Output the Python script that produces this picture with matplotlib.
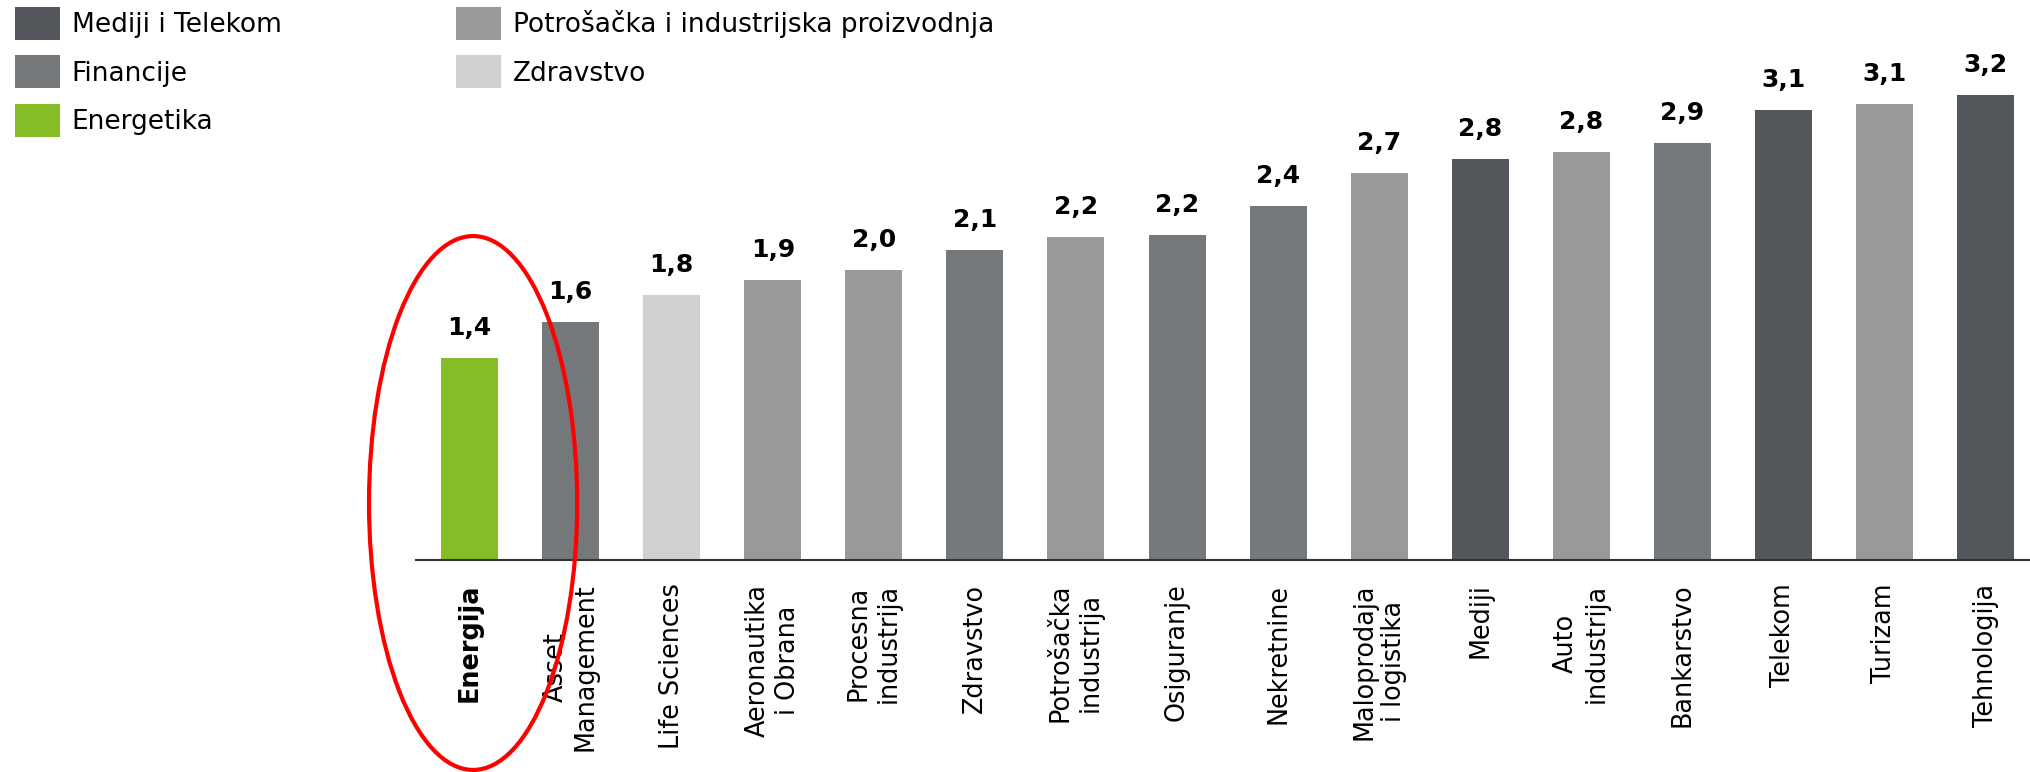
import matplotlib
matplotlib.use("Agg")
import matplotlib.pyplot as plt
from matplotlib.patches import Patch, Ellipse

# sectors, bar heights and the printed labels
sectors = ["Energija", "Asset\nManagement", "Life Sciences", "Aeronautika\ni Obrana",
           "Procesna\nindustrija", "Zdravstvo", "Potrošačka\nindustrija", "Osiguranje",
           "Nekretnine", "Maloprodaja\ni logistika", "Mediji", "Auto\nindustrija",
           "Bankarstvo", "Telekom", "Turizam", "Tehnologija"]
values = [1.40, 1.65, 1.84, 1.94, 2.01, 2.15, 2.24, 2.25,
          2.45, 2.68, 2.78, 2.83, 2.89, 3.12, 3.16, 3.22]
value_labels = ["1,4", "1,6", "1,8", "1,9", "2,0", "2,1", "2,2", "2,2",
                "2,4", "2,7", "2,8", "2,8", "2,9", "3,1", "3,1", "3,2"]
groups = ["Energetika", "Financije", "Zdravstvo", "Potrošačka i industrijska proizvodnja",
          "Potrošačka i industrijska proizvodnja", "Financije",
          "Potrošačka i industrijska proizvodnja", "Financije", "Financije",
          "Potrošačka i industrijska proizvodnja", "Mediji i Telekom",
          "Potrošačka i industrijska proizvodnja", "Financije", "Mediji i Telekom",
          "Potrošačka i industrijska proizvodnja", "Mediji i Telekom"]

legend_order = ["Mediji i Telekom", "Financije", "Energetika",
                "Potrošačka i industrijska proizvodnja", "Zdravstvo"]
group_colors = {
    "Mediji i Telekom": "#53565a",
    "Financije": "#75787b",
    "Energetika": "#86bc25",
    "Potrošačka i industrijska proizvodnja": "#97999b",
    "Zdravstvo": "#d0d0ce",
}
highlight = 0  # Energija

fig = plt.figure(figsize=(20.31, 7.72), dpi=100)
ax = fig.add_axes([416 / 2031, 212 / 772, 1615 / 2031, 548.3 / 772])

x = list(range(len(sectors)))
colors = [group_colors[g] for g in groups]
ax.bar(x, values, width=0.564, color=colors, zorder=2)

for xi, v, lab in zip(x, values, value_labels):
    ax.annotate(lab, (xi, v), xytext=(0, 23), textcoords="offset pixels",
                ha="center", va="baseline", fontsize=18, fontweight="bold")

ax.set_xlim(-0.53, 15.45)
ax.set_ylim(0, 3.8)
ax.set_xticks(x)
ax.set_xticklabels(sectors, rotation=90, fontsize=18.4, multialignment="center")
ax.get_xticklabels()[highlight].set_fontweight("bold")
ax.tick_params(axis="x", length=0, pad=17)
ax.set_yticks([])
for s in ["top", "right", "left"]:
    ax.spines[s].set_visible(False)
ax.spines["bottom"].set_color("#333333")
ax.spines["bottom"].set_linewidth(1.5)

# red ellipse around the highlighted sector
ax.add_patch(Ellipse((x[highlight] + 0.035, 0.395), 2.06, 3.70, fill=False,
                     edgecolor="#ff0000", linewidth=3, clip_on=False, zorder=3))

handles = [Patch(facecolor=group_colors[g], edgecolor="none", label=g) for g in legend_order]
fig.legend(handles=handles, ncol=2, loc="upper left",
           bbox_to_anchor=(15 / 2031, 1 - 7 / 772), frameon=False,
           borderpad=0, borderaxespad=0, handlelength=1.70, handleheight=1.55,
           handletextpad=0.45, labelspacing=0.58, columnspacing=6.6, fontsize=19)

fig.savefig("out.png", dpi=100)
